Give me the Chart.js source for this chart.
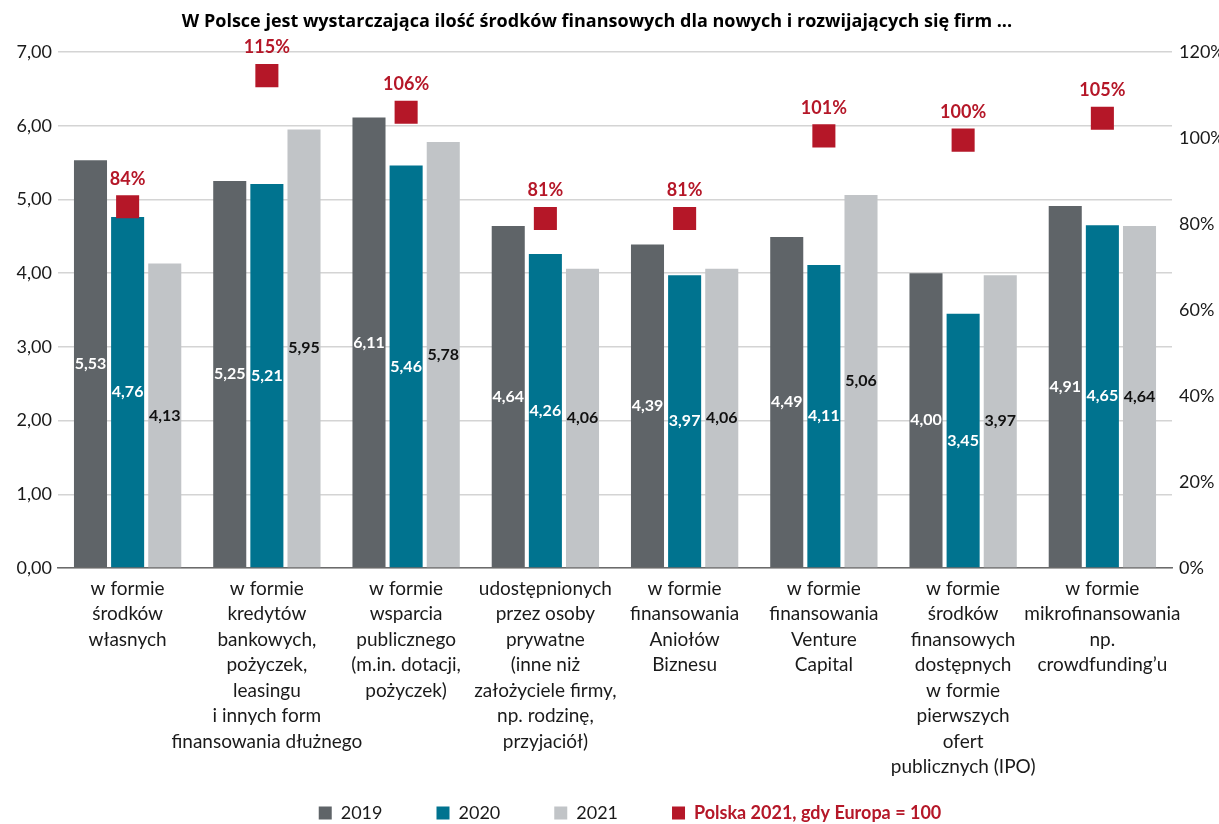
<!DOCTYPE html>
<html>
<head>
<meta charset="utf-8">
<script src="https://cdn.jsdelivr.net/npm/chart.js@4/dist/chart.umd.min.js"></script>
<style>
  html, body { margin: 0; padding: 0; background: #fff; }
  #wrap { width: 1219px; height: 824px; position: relative; }
</style>
</head>
<body>
<div id="wrap"><canvas id="c" width="1219" height="824"></canvas></div>
<script>
const title = "W Polsce jest wystarczająca ilość środków finansowych dla nowych i rozwijających się firm ...";
const categories = [
  ["w formie", "środków", "własnych"],
  ["w formie", "kredytów", "bankowych,", "pożyczek,", "leasingu", "i innych form", "finansowania dłużnego"],
  ["w formie", "wsparcia", "publicznego", "(m.in. dotacji,", "pożyczek)"],
  ["udostępnionych", "przez osoby", "prywatne", "(inne niż", "założyciele firmy,", "np. rodzinę,", "przyjaciół)"],
  ["w formie", "finansowania", "Aniołów", "Biznesu"],
  ["w formie", "finansowania", "Venture", "Capital"],
  ["w formie", "środków", "finansowych", "dostępnych", "w formie", "pierwszych", "ofert", "publicznych (IPO)"],
  ["w formie", "mikrofinansowania", "np.", "crowdfunding’u"]
];
const seriesNames = ["2019", "2020", "2021", "Polska 2021, gdy Europa = 100"];
const values2019 = [5.53, 5.25, 6.11, 4.64, 4.39, 4.49, 4.00, 4.91];
const values2020 = [4.76, 5.21, 5.46, 4.26, 3.97, 4.11, 3.45, 4.65];
const values2021 = [4.13, 5.95, 5.78, 4.06, 4.06, 5.06, 3.97, 4.64];
const polskaVsEuropa = [84.0, 114.5, 106.0, 81.3, 81.3, 100.5, 99.5, 104.6];
const leftTicks = [0, 1, 2, 3, 4, 5, 6, 7];
const rightTicks = [0, 20, 40, 60, 80, 100, 120];

const COL19 = '#5f6468', COL20 = '#00738f', COL21 = '#c1c4c7', RED = '#b51728';
const FONT = 'Lato, "Open Sans", sans-serif';
const TFONT = '"Open Sans", Lato, sans-serif';
Chart.defaults.font.family = FONT;
Chart.defaults.color = '#1a1a1a';

const fmt = v => v.toFixed(2).replace('.', ',');

const labelPlugin = {
  id: 'labels',
  afterDatasetsDraw(chart) {
    const ctx = chart.ctx;
    ctx.save();
    ctx.textAlign = 'center';
    ctx.textBaseline = 'middle';
    chart.data.datasets.forEach((ds, di) => {
      const meta = chart.getDatasetMeta(di);
      meta.data.forEach((el, i) => {
        const v = ds.data[i];
        if (ds.type === 'line') {
          ctx.font = 'bold 18px ' + FONT;
          ctx.fillStyle = RED;
          ctx.fillText(Math.round(v) + '%', el.x, el.y - 28);
        } else {
          ctx.font = 'bold 16px ' + FONT;
          ctx.fillStyle = ds.labelColor;
          ctx.fillText(fmt(v), el.x, (el.y + el.base) / 2);
        }
      });
    });
    ctx.restore();
  }
};

const titleLegendPlugin = {
  id: 'titleLegend',
  afterDraw(chart) {
    const ctx = chart.ctx;
    ctx.save();
    ctx.textBaseline = 'middle';
    ctx.textAlign = 'center';
    ctx.font = 'bold 18px ' + TFONT;
    ctx.fillStyle = '#000';
    ctx.fillText(title, 597, 22);
    // legend
    const colors = [COL19, COL20, COL21, RED];
    const fonts = ['18px ', '18px ', '18px ', 'bold 18px '];
    const tcols = ['#1a1a1a', '#1a1a1a', '#1a1a1a', RED];
    const box = 13, gap = 9, spacing = 54;
    let widths = seriesNames.map((t, i) => { ctx.font = fonts[i] + FONT; return box + gap + ctx.measureText(t).width; });
    const total = widths.reduce((a, b) => a + b, 0) + spacing * (widths.length - 1);
    let x = 630 - total / 2;
    const y = 813;
    ctx.textAlign = 'left';
    seriesNames.forEach((t, i) => {
      ctx.fillStyle = colors[i];
      ctx.fillRect(x, y - box / 2, box, box);
      ctx.font = fonts[i] + FONT;
      ctx.fillStyle = tcols[i];
      ctx.fillText(t, x + box + gap, y);
      x += widths[i] + spacing;
    });
    ctx.restore();
  }
};

new Chart(document.getElementById('c'), {
  type: 'bar',
  data: {
    labels: categories,
    datasets: [
      { type: 'line', label: seriesNames[3], data: polskaVsEuropa, yAxisID: 'y1', showLine: false,
        pointStyle: 'rect', pointRadius: 16.3, pointHoverRadius: 16.3, pointBackgroundColor: RED,
        pointBorderWidth: 0, borderColor: RED, backgroundColor: RED, order: -1 },
      { label: seriesNames[0], data: values2019, backgroundColor: COL19, labelColor: '#ffffff', yAxisID: 'y' },
      { label: seriesNames[1], data: values2020, backgroundColor: COL20, labelColor: '#ffffff', yAxisID: 'y' },
      { label: seriesNames[2], data: values2021, backgroundColor: COL21, labelColor: '#111111', yAxisID: 'y' }
    ]
  },
  options: {
    responsive: false,
    animation: false,
    devicePixelRatio: 1,
    layout: { padding: { top: 52, bottom: 0, left: 0, right: 0 } },
    datasets: { bar: { barPercentage: 0.89, categoryPercentage: 0.80 } },
    plugins: { legend: { display: false }, tooltip: { enabled: false }, title: { display: false } },
    scales: {
      x: {
        grid: { display: false, drawTicks: false },
        border: { display: true, color: '#6b6b6b', width: 1.5 },
        ticks: { font: { size: 19, lineHeight: 1.342 }, color: '#1a1a1a', maxRotation: 0, minRotation: 0, autoSkip: false, padding: 8 },
        afterFit(s) { s.height = 256; }
      },
      y: {
        position: 'left', min: 0, max: 7,
        afterBuildTicks(s) { s.ticks = leftTicks.map(v => ({ value: v })); },
        grid: { color: '#d4d4d4', lineWidth: 1.5, drawTicks: false },
        border: { display: false },
        ticks: { font: { size: 18 }, color: '#1a1a1a', padding: 6, callback: v => fmt(v) },
        afterFit(s) { s.width = 58; }
      },
      y1: {
        position: 'right', min: 0, max: 120,
        afterBuildTicks(s) { s.ticks = rightTicks.map(v => ({ value: v })); },
        grid: { display: false, drawTicks: false },
        border: { display: false },
        ticks: { font: { size: 18 }, color: '#1a1a1a', padding: 7, callback: v => v + '%' },
        afterFit(s) { s.width = 47; }
      }
    }
  },
  plugins: [labelPlugin, titleLegendPlugin]
});
</script>
</body>
</html>
